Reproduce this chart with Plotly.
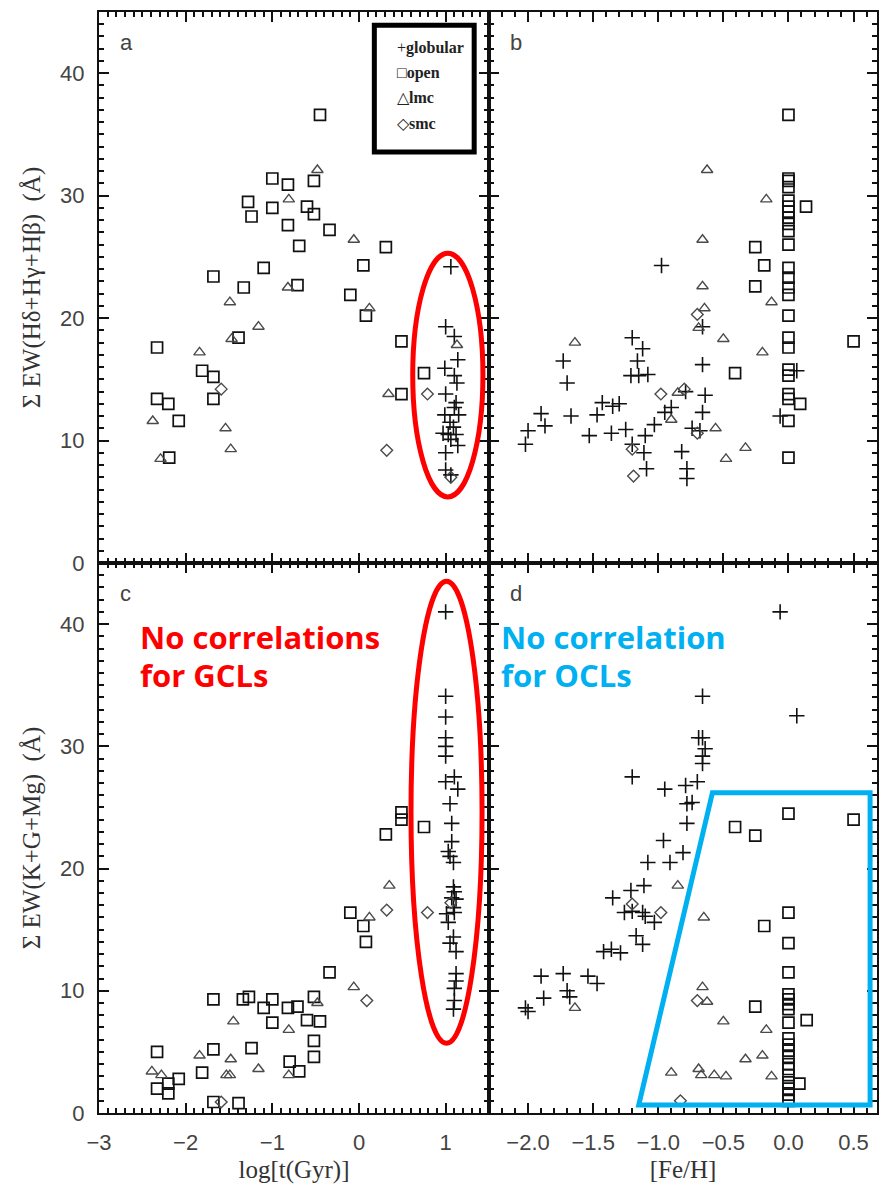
import plotly.graph_objects as go

# ---------------- panel a : log age vs Balmer equivalent width ----------------
a_glob_x = [1.06, 1.0, 1.1, 1.14, 0.99, 1.1, 1.13, 1.0, 1.12, 1.1, 0.99, 1.15, 1.05, 1.09, 0.97, 1.03, 1.12, 1.06, 1.14, 1.0, 1.0, 1.06]
a_glob_y = [24.2, 19.3, 18.5, 16.6, 15.9, 15.3, 14.7, 13.8, 13.1, 12.7, 12.1, 12.1, 11.5, 11.1, 10.6, 10.5, 10.5, 10.1, 9.6, 9.0, 7.6, 7.2]
a_open_x = [-0.45, -1.0, -0.82, -0.52, -1.28, -1.24, -1.0, -0.82, -0.6, -0.52, -0.34, -0.69, -1.68, -1.10, -1.33, -0.71,
            0.31, 0.05, -0.10, 0.08, 0.49, -1.39, -2.33, -1.81, -1.68, -1.68, -2.33, -2.20, -2.08, -2.19, 0.49, 0.75]
a_open_y = [36.6, 31.4, 30.9, 31.2, 29.5, 28.3, 29.0, 27.6, 29.1, 28.5, 27.2, 25.9, 23.4, 24.1, 22.5, 22.7,
            25.8, 24.3, 21.9, 20.2, 18.1, 18.4, 17.6, 15.7, 15.2, 13.4, 13.4, 13.0, 11.6, 8.6, 13.8, 15.5]
a_lmc_x = [-0.48, -0.81, -0.82, -1.49, -1.16, -1.47, -1.84, -2.38, -1.54, -1.48, -2.29, -0.06, 0.12, 0.34, 1.13]
a_lmc_y = [32.1, 29.7, 22.5, 21.3, 19.3, 18.3, 17.2, 11.6, 11.0, 9.3, 8.5, 26.4, 20.8, 13.8, 17.8]
a_smc_x = [-1.59, 0.32, 0.79, 1.06]
a_smc_y = [14.2, 9.2, 13.8, 7.0]

# ---------------- panel b : [Fe/H] vs Balmer equivalent width ----------------
b_glob_x = [-0.975, -1.2, -1.12, -1.16, -1.73, -1.70, -1.21, -1.15, -1.08, -1.9, -1.87, -2.0, -2.02, -1.67, -1.53,
            -1.47, -1.43, -1.35, -1.3, -1.36, -1.25, -1.10, -1.2, -1.11, -1.09, -1.03, -0.95, -0.90, -0.79,
            -0.66, -0.66, -0.64, -0.66, -0.74, -0.68, -0.82, -0.78, -0.78, -0.064, 0.064]
b_glob_y = [24.3, 18.4, 17.5, 16.5, 16.5, 14.7, 15.3, 15.3, 15.4, 12.2, 11.2, 10.8, 9.7, 12.0, 10.4,
            12.1, 13.1, 12.8, 13.0, 10.6, 10.9, 10.4, 9.7, 9.0, 7.7, 11.3, 12.3, 12.7, 14.0,
            19.3, 16.2, 13.7, 12.3, 11.0, 10.8, 9.1, 7.7, 6.9, 12.0, 15.7]
b_open_x = [0.0] * 24 + [0.135, -0.255, -0.186, -0.255, -0.41, 0.09, 0.5]
b_open_y = [36.6, 31.4, 31.2, 30.7, 29.6, 29.1, 28.7, 28.2, 27.7, 27.1, 26.0, 24.1, 23.3, 22.5, 21.9, 20.2,
            18.4, 17.6, 15.8, 15.3, 13.8, 13.4, 11.6, 8.6,
            29.1, 25.8, 24.3, 22.6, 15.5, 13.0, 18.1]
b_lmc_x = [-0.625, -0.17, -0.66, -0.66, -0.645, -0.13, -0.69, -0.5, -0.2, -1.64, -0.85, -0.9, -0.56, -0.33, -0.48]
b_lmc_y = [32.1, 29.7, 26.4, 22.6, 20.8, 21.3, 19.2, 18.3, 17.2, 18.0, 13.9, 11.7, 11.0, 9.4, 8.5]
b_smc_x = [-0.70, -0.98, -1.2, -1.19, -0.70, -0.80]
b_smc_y = [20.3, 13.8, 9.3, 7.1, 10.6, 14.2]

# ---------------- panel c : log age vs metal-line equivalent width ----------------
c_glob_x = [1.0, 1.0, 1.0, 1.0, 1.0, 1.0, 1.0, 1.1, 1.14, 1.05, 1.07, 1.07, 1.03, 1.05, 1.09, 1.09, 1.1,
            1.07, 1.12, 1.09, 1.1, 1.01, 1.03, 1.09, 1.05, 1.12, 1.12, 1.12, 1.1, 1.1, 1.09]
c_glob_y = [41.0, 34.1, 32.4, 30.7, 30.0, 29.2, 27.1, 27.5, 26.5, 25.3, 23.7, 22.2, 21.4, 21.0, 20.5, 18.5, 18.1,
            17.6, 17.5, 16.8, 16.4, 16.3, 15.6, 14.4, 13.9, 13.2, 11.4, 10.8, 10.2, 9.2, 8.5]
c_open_x = [-2.33, -2.33, -2.2, -2.2, -2.08, -1.81, -1.68, -1.68, -1.68, -1.39, -1.24, -1.34, -1.27, -1.10, -1.0,
            -1.0, -0.82, -0.71, -0.8, -0.69, -0.6, -0.52, -0.45, -0.52, -0.52, -0.34, -0.1, 0.05, 0.08,
            0.31, 0.49, 0.49, 0.75]
c_open_y = [5.0, 2.0, 1.6, 2.4, 2.8, 3.3, 5.2, 9.3, 0.9, 0.8, 5.3, 9.3, 9.5, 8.6, 9.3,
            7.4, 8.6, 8.7, 4.2, 3.4, 7.6, 9.5, 7.5, 5.9, 4.6, 11.5, 16.4, 15.3, 14.0,
            22.8, 24.6, 24.0, 23.4]
c_lmc_x = [-2.39, -2.28, -1.84, -1.48, -1.53, -1.49, -1.45, -1.16, -0.81, -0.81, -0.48, -0.06, 0.12, 0.35]
c_lmc_y = [3.4, 3.1, 4.7, 4.4, 3.1, 3.1, 7.5, 3.6, 6.8, 3.1, 9.0, 10.3, 16.0, 18.6]
c_smc_x = [-1.59, 0.09, 0.32, 0.79, 1.06]
c_smc_y = [0.9, 9.2, 16.6, 16.4, 17.2]

# ---------------- panel d : [Fe/H] vs metal-line equivalent width ----------------
d_glob_x = [-0.064, 0.064, -0.66, -0.69, -0.66, -0.64, -0.66, -0.66, -1.2, -0.95, -0.79, -0.70, -0.78, -0.74,
            -0.78, -0.96, -0.81, -1.08, -0.91, -1.21, -1.11, -1.35, -1.26, -1.2, -1.12, -1.1, -1.03,
            -1.17, -1.12, -1.42, -1.36, -1.29, -1.9, -1.73, -1.54, -1.47, -1.70, -1.68, -1.88, -2.02, -2.0]
d_glob_y = [41.0, 32.5, 34.1, 30.7, 30.7, 29.8, 29.2, 28.6, 27.5, 26.5, 26.8, 27.1, 25.3, 25.4,
            23.7, 22.3, 21.3, 20.5, 20.5, 18.2, 18.6, 17.6, 16.4, 16.5, 16.4, 16.1, 15.6,
            14.5, 13.8, 13.2, 13.4, 13.1, 11.2, 11.4, 11.2, 10.6, 10.0, 9.5, 9.4, 8.6, 8.3]
d_open_x = [0.0, 0.5, -0.41, -0.255, 0.0, -0.186, 0.0, 0.0, 0.0, 0.0, 0.0, 0.0, -0.255, 0.0, 0.14,
            0.0, 0.0, 0.0, 0.0, 0.0, 0.0, 0.0, 0.0, 0.0, 0.0, 0.0, 0.084]
d_open_y = [24.5, 24.0, 23.4, 22.7, 16.4, 15.3, 13.9, 11.5, 9.7, 9.3, 8.9, 8.5, 8.7, 7.4, 7.6,
            6.1, 5.6, 5.1, 4.6, 4.0, 3.6, 3.1, 2.5, 2.0, 1.5, 1.0, 2.4]
d_lmc_x = [-0.85, -0.65, -0.66, -1.64, -0.625, -0.5, -0.17, -0.2, -0.33, -0.9, -0.69, -0.67, -0.57, -0.48, -0.13]
d_lmc_y = [18.6, 16.0, 10.3, 8.6, 9.1, 7.5, 6.8, 4.7, 4.4, 3.3, 3.6, 3.1, 3.1, 3.0, 3.0]
d_smc_x = [-1.2, -0.98, -0.70, -0.83]
d_smc_y = [17.1, 16.4, 9.2, 1.0]

# ---------------- axis text ----------------
age_title = "log[t(Gyr)]"
feh_title = "[Fe/H]"
balmer_title = "Σ EW(Hδ+Hγ+Hβ)  (Å)"
metal_title = "Σ EW(K+G+Mg)  (Å)"
age_ticks = [-3, -2, -1, 0, 1]
feh_ticks = [-2.0, -1.5, -1.0, -0.5, 0.0, 0.5]
ew_ticks = [0, 10, 20, 30, 40]

STYLES = {
    "glob": dict(symbol="cross-thin", size=11, color="#111111", line=dict(width=1.6, color="#111111")),
    "open": dict(symbol="square-open", size=11, color="#111111", line=dict(width=1.7)),
    "lmc": dict(symbol="triangle-up-open", size=10, color="#4a4a4a", line=dict(width=1.4)),
    "smc": dict(symbol="diamond-open", size=9, color="#4a4a4a", line=dict(width=1.4)),
}

panels = [
    ("x", "y", [("glob", a_glob_x, a_glob_y), ("open", a_open_x, a_open_y), ("lmc", a_lmc_x, a_lmc_y), ("smc", a_smc_x, a_smc_y)]),
    ("x2", "y2", [("glob", b_glob_x, b_glob_y), ("open", b_open_x, b_open_y), ("lmc", b_lmc_x, b_lmc_y), ("smc", b_smc_x, b_smc_y)]),
    ("x3", "y3", [("glob", c_glob_x, c_glob_y), ("open", c_open_x, c_open_y), ("lmc", c_lmc_x, c_lmc_y), ("smc", c_smc_x, c_smc_y)]),
    ("x4", "y4", [("glob", d_glob_x, d_glob_y), ("open", d_open_x, d_open_y), ("lmc", d_lmc_x, d_lmc_y), ("smc", d_smc_x, d_smc_y)]),
]

fig = go.Figure()
for xa, ya, groups in panels:
    for kind, xs, ys in groups:
        fig.add_trace(go.Scatter(x=xs, y=ys, mode="markers", xaxis=xa, yaxis=ya,
                                 marker=STYLES[kind], showlegend=False, hoverinfo="skip"))

TICK_FONT = dict(family="Liberation Sans, Arial, sans-serif", size=22, color="#444444")
TITLE_FONT = dict(family="Liberation Serif, Times New Roman, serif", size=25, color="#333333")

def axis_style(**kw):
    base = dict(showline=True, linecolor="#111111", linewidth=2, mirror="allticks",
                ticks="inside", ticklen=10, tickwidth=1.6, tickcolor="#111111",
                showgrid=False, zeroline=False, tickfont=TICK_FONT, title_font=TITLE_FONT)
    base.update(kw)
    return base

XSPLIT = 391 / 780
YSPLIT = 550 / 1101

fig.update_layout(
    width=879, height=1191,
    margin=dict(l=99, r=0, t=12, b=78),
    paper_bgcolor="white", plot_bgcolor="white",
    xaxis=axis_style(domain=[0, XSPLIT], anchor="y", range=[-3, 1.5], tickvals=age_ticks,
                     showticklabels=False, minor=dict(ticks="inside", ticklen=5, dtick=0.1, tickcolor="#111111")),
    yaxis=axis_style(domain=[YSPLIT, 1], anchor="x", range=[0, 45], tickvals=ew_ticks, ticklabelstandoff=8,
                     minor=dict(ticks="inside", ticklen=5, dtick=1, tickcolor="#111111"),
                     title=dict(text=balmer_title, standoff=12)),
    xaxis2=axis_style(domain=[XSPLIT, 1], anchor="y2", range=[-2.3, 0.68], tickvals=feh_ticks,
                      showticklabels=False, minor=dict(ticks="inside", ticklen=5, dtick=0.1, tickcolor="#111111")),
    yaxis2=axis_style(domain=[YSPLIT, 1], anchor="x2", range=[0, 45], tickvals=ew_ticks, showticklabels=False,
                      minor=dict(ticks="inside", ticklen=5, dtick=1, tickcolor="#111111")),
    xaxis3=axis_style(domain=[0, XSPLIT], anchor="y3", range=[-3, 1.5], tickvals=age_ticks,
                      ticklabelstandoff=9, minor=dict(ticks="inside", ticklen=5, dtick=0.1, tickcolor="#111111"),
                      title=dict(text=age_title, standoff=6)),
    yaxis3=axis_style(domain=[0, YSPLIT], anchor="x3", range=[0, 45], tickvals=ew_ticks, ticklabelstandoff=8,
                      minor=dict(ticks="inside", ticklen=5, dtick=1, tickcolor="#111111"),
                      title=dict(text=metal_title, standoff=12)),
    xaxis4=axis_style(domain=[XSPLIT, 1], anchor="y4", range=[-2.3, 0.68], tickvals=feh_ticks, tickformat=".1f",
                      ticklabelstandoff=9, minor=dict(ticks="inside", ticklen=5, dtick=0.1, tickcolor="#111111"),
                      title=dict(text=feh_title, standoff=6)),
    yaxis4=axis_style(domain=[0, YSPLIT], anchor="x4", range=[0, 45], tickvals=ew_ticks, showticklabels=False,
                      minor=dict(ticks="inside", ticklen=5, dtick=1, tickcolor="#111111")),
)

# panel letters
for ref, letter in [("x", "a"), ("x2", "b"), ("x3", "c"), ("x4", "d")]:
    yref = ref.replace("x", "y")
    fig.add_annotation(text=letter, xref=f"{ref} domain", yref=f"{yref} domain", x=0.05, y=0.945,
                       xanchor="left", yanchor="middle", showarrow=False,
                       font=dict(family="Liberation Sans, Arial, sans-serif", size=22, color="#444444"))

# symbol key in panel a
fig.add_shape(type="rect", xref="x domain", yref="y domain", x0=0.706, x1=0.962, y0=0.746, y1=0.976,
              line=dict(color="black", width=5), fillcolor="rgba(0,0,0,0)")
key_rows = [("+", "globular"), ("□", "open"), ("△", "lmc"), ("◇", "smc")]
for i, (sym, name) in enumerate(key_rows):
    fig.add_annotation(text=f"{sym}<b>{name}</b>", xref="x domain", yref="y domain",
                       x=0.758, y=0.935 - i * 0.0455, xanchor="left", yanchor="middle", showarrow=False,
                       font=dict(family="Liberation Serif, serif", size=16, color="#222222"))

# highlighting of the globular-cluster column
RED = "#ff0000"
BLUE = "#00b0f0"
NOTE_FONT = dict(family="Open Sans, sans-serif", size=31, weight="bold")
fig.add_shape(type="circle", xref="x", yref="y", x0=0.62, x1=1.43, y0=5.4, y1=25.3,
              line=dict(color=RED, width=5))
fig.add_shape(type="circle", xref="x3", yref="y3", x0=0.60, x1=1.42, y0=5.7, y1=43.5,
              line=dict(color=RED, width=5))
for line_text, yd in [("No correlations", 0.866), ("for GCLs", 0.797)]:
    fig.add_annotation(text=line_text, xref="x3 domain", yref="y3 domain", x=0.100, y=yd,
                       xanchor="left", yanchor="middle", showarrow=False,
                       font=dict(NOTE_FONT, color=RED))

# open-cluster region in panel d
fig.add_shape(type="path", xref="x4", yref="y4",
              path="M -0.584,26.2 L 0.627,26.2 L 0.627,0.65 L -1.15,0.65 Z",
              line=dict(color=BLUE, width=5))
for line_text, yd in [("No correlation", 0.866), ("for OCLs", 0.797)]:
    fig.add_annotation(text=line_text, xref="x4 domain", yref="y4 domain", x=0.027, y=yd,
                       xanchor="left", yanchor="middle", showarrow=False,
                       font=dict(NOTE_FONT, color=BLUE))

fig.write_html("out.html")
